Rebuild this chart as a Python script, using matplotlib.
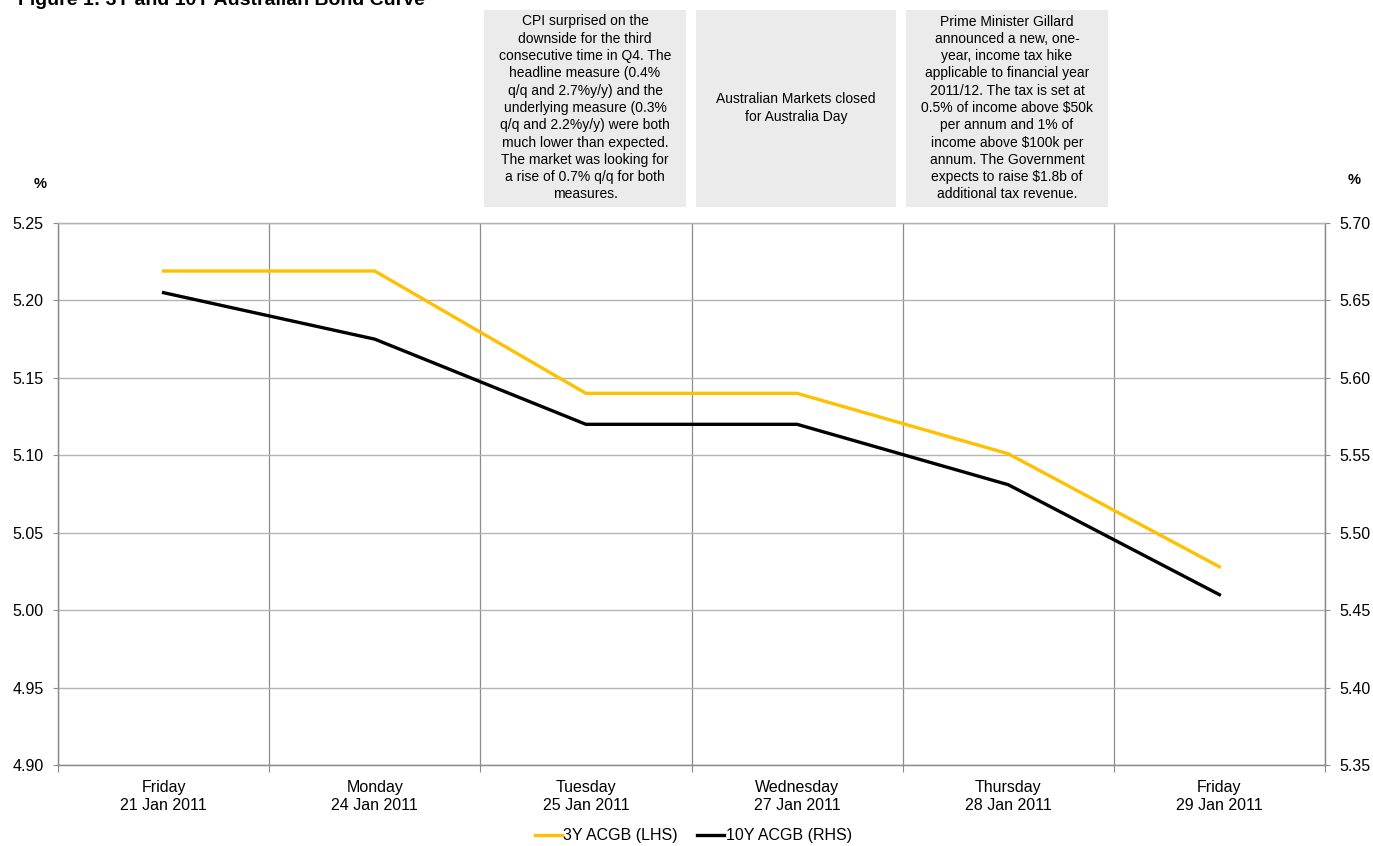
import matplotlib.pyplot as plt
from matplotlib.patches import Rectangle
from matplotlib.lines import Line2D

# Dados do gráfico
dias = ['Friday\n21 Jan 2011', 'Monday\n24 Jan 2011', 'Tuesday\n25 Jan 2011',
        'Wednesday\n27 Jan 2011', 'Thursday\n28 Jan 2011', 'Friday\n29 Jan 2011']
acgb_3y = [5.219, 5.219, 5.140, 5.140, 5.101, 5.028]
acgb_10y = [5.655, 5.625, 5.570, 5.570, 5.531, 5.460]

ticks_esq = [4.90, 4.95, 5.00, 5.05, 5.10, 5.15, 5.20, 5.25]
ticks_dir = [5.35, 5.40, 5.45, 5.50, 5.55, 5.60, 5.65, 5.70]

notas = [
    'CPI surprised on the\ndownside for the third\nconsecutive time in Q4. The\n'
    'headline measure (0.4%\nq/q and 2.7%y/y) and the\nunderlying measure (0.3%\n'
    'q/q and 2.2%y/y) were both\nmuch lower than expected.\nThe market was looking for\n'
    'a rise of 0.7% q/q for both\nmeasures.',
    'Australian Markets closed\nfor Australia Day',
    'Prime Minister Gillard\nannounced a new, one-\nyear, income tax hike\n'
    'applicable to financial year\n2011/12. The tax is set at\n0.5% of income above $50k\n'
    'per annum and 1% of\nincome above $100k per\nannum. The Government\n'
    'expects to raise $1.8b of\nadditional tax revenue.',
]

amarelo = '#FFC000'
cinza_h = '#B4B4B4'
cinza_v = '#8C8C8C'
plt.rcParams['font.family'] = ['Liberation Sans', 'DejaVu Sans']

W, H = 1373, 846
fig = plt.figure(figsize=(W / 100, H / 100), dpi=100)
ax = fig.add_axes([58 / W, 1 - 765 / H, (1325 - 58) / W, (765 - 223) / H])
ax2 = ax.twinx()

x = list(range(len(dias)))
ax.plot(x, acgb_3y, color=amarelo, lw=2.4, solid_joinstyle='miter', zorder=3)
ax2.plot(x, acgb_10y, color='black', lw=2.4, solid_joinstyle='miter', zorder=3)

ax.set_xlim(-0.5, len(dias) - 0.5)
ax.set_ylim(4.90, 5.25)
ax2.set_ylim(5.35, 5.70)
ax.set_yticks(ticks_esq)
ax.set_yticklabels([f'{v:.2f}' for v in ticks_esq])
ax2.set_yticks(ticks_dir)
ax2.set_yticklabels([f'{v:.2f}' for v in ticks_dir])

ax.set_xticks(x)
ax.set_xticklabels(dias, fontsize=11.5, linespacing=1.2)
ax.set_xticks([i - 0.5 for i in range(len(dias) + 1)], minor=True)
ax.tick_params(axis='x', which='major', length=0, pad=11)
ax.tick_params(axis='x', which='minor', length=5, color=cinza_v, width=0.8)
ax.tick_params(axis='y', length=3.5, color=cinza_v, width=0.8, labelsize=11.5, pad=7)
ax2.tick_params(axis='y', length=3.5, color=cinza_v, width=0.8, labelsize=11.5, pad=7)

ax.grid(axis='y', color=cinza_h, lw=1.0)
ax.grid(axis='x', which='minor', color=cinza_v, lw=0.9)
ax.set_axisbelow(True)
for a in (ax, ax2):
    for s in a.spines.values():
        s.set_color(cinza_v)
        s.set_linewidth(0.9)
    a.spines['top'].set_color(cinza_h)

fig.text(47 / W, 1 - 184 / H, '%', ha='right', va='center', fontsize=10.5, weight='bold')
fig.text(1348 / W, 1 - 180 / H, '%', ha='left', va='center', fontsize=10.5, weight='bold')

fig.text(18 / W, 1 - 5 / H, 'Figure 1: 3Y and 10Y Australian Bond Curve',
         ha='left', va='baseline', fontsize=14, weight='bold')

# Caixas de notas
caixas = [(484, 686), (696, 896), (906, 1108)]
for (x0, x1), nota in zip(caixas, notas):
    fig.patches.append(Rectangle((x0 / W, 1 - 207 / H), (x1 - x0) / W, 197 / H,
                                 transform=fig.transFigure, facecolor='#EBEBEB',
                                 edgecolor='none', zorder=0))
    fig.text((x0 + x1) / 2 / W, 1 - 108 / H, nota, ha='center', va='center',
             fontsize=10, linespacing=1.3)

handles = [Line2D([], [], color=amarelo, lw=2.4), Line2D([], [], color='black', lw=2.4)]
fig.legend(handles, ['3Y ACGB (LHS)', '10Y ACGB (RHS)'], loc='lower center',
           bbox_to_anchor=(0.505, -0.014), ncol=2, frameon=False, fontsize=11.5,
           handlelength=1.7, handletextpad=0.1, columnspacing=1.2)

fig.savefig('out.png', dpi=100)
